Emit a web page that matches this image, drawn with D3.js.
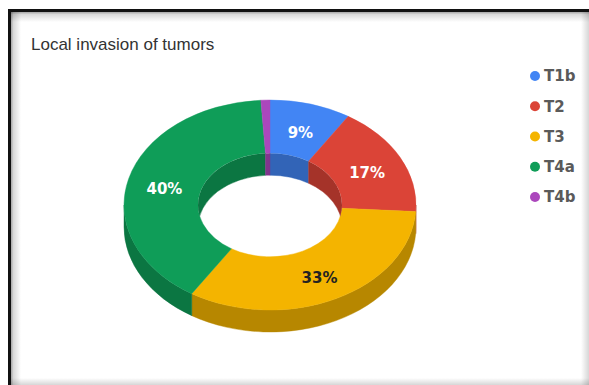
<!DOCTYPE html>
<html>
<head>
<meta charset="utf-8">
<script src="https://cdn.jsdelivr.net/npm/d3@7/dist/d3.min.js"></script>
<style>
  html, body { margin: 0; padding: 0; background: #fff; }
  svg { display: block; }
</style>
</head>
<body>
<svg id="chart" width="589" height="385"></svg>
<script>
// ---- data ----
const title = "Local invasion of tumors";
const categories = ["T1b", "T2", "T3", "T4a", "T4b"];
const values = [9, 17, 33, 40, 1];
const colors = ["#4285F4", "#DB4437", "#F4B400", "#0F9D58", "#AB47BC"];
const labelColors = ["#ffffff", "#ffffff", "#222222", "#ffffff", "#ffffff"];

// ---- layout ----
const W = 589, H = 385;
const cx = 270, cy = 205;
const ro = 146, ri = 72;
const k = 105 / 146;      // vertical squash of the tilted donut
const depth = 22;         // thickness in screen px
const D = depth / k;      // thickness in squashed space

const svg = d3.select("#chart");
const defs = svg.append("defs");

// ---- frame ----
svg.append("rect").attr("width", W).attr("height", H).attr("fill", "#fff");
function grad(id, x1, y1, x2, y2, stops) {
  const g = defs.append("linearGradient").attr("id", id)
    .attr("x1", x1).attr("y1", y1).attr("x2", x2).attr("y2", y2);
  stops.forEach(s => g.append("stop").attr("offset", s[0]).attr("stop-color", "#000").attr("stop-opacity", s[1]));
}
grad("shL", 0, 0, 1, 0, [[0, 0.35], [0.25, 0.15], [1, 0]]);
grad("shT", 0, 0, 0, 1, [[0, 0.35], [0.25, 0.15], [1, 0]]);
grad("shR", 0, 0, 1, 0, [[0, 0], [1, 0.16]]);
grad("shB", 0, 0, 0, 1, [[0, 0], [1, 0.16]]);
svg.append("rect").attr("x", 11).attr("y", 12).attr("width", 10).attr("height", H - 12).attr("fill", "url(#shL)");
svg.append("rect").attr("x", 11).attr("y", 12).attr("width", W - 11).attr("height", 10).attr("fill", "url(#shT)");
svg.append("rect").attr("x", W - 8).attr("y", 12).attr("width", 8).attr("height", H - 12).attr("fill", "url(#shR)");
svg.append("rect").attr("x", 11).attr("y", H - 7).attr("width", W - 11).attr("height", 7).attr("fill", "url(#shB)");
svg.append("rect").attr("x", 8).attr("y", 9).attr("width", 3).attr("height", H - 9).attr("fill", "#111");
svg.append("rect").attr("x", 8).attr("y", 9).attr("width", W - 8).attr("height", 3).attr("fill", "#111");

// ---- title ----
svg.append("text")
  .attr("x", 31).attr("y", 50)
  .attr("font-family", "'Liberation Sans', Arial, sans-serif")
  .attr("font-size", 17)
  .attr("fill", "#333")
  .text(title);

// ---- donut ----
const pie = d3.pie().sort(null).value(d => d);
const arcs = pie(values);
const color = d3.scaleOrdinal().domain(categories).range(colors);
const sideColor = c => d3.color(c).darker(0.8).formatHex();

const g = svg.append("g").attr("transform", `translate(${cx},${cy}) scale(1,${k})`);
const P = (a, r, dy = 0) => [r * Math.sin(a), -r * Math.cos(a) + dy];
const pt = p => `${p[0]},${p[1]}`;

function wallPath(s, e, r) {
  const large = (e - s) > Math.PI ? 1 : 0;
  return `M${pt(P(s, r))}A${r},${r} 0 ${large} 1 ${pt(P(e, r))}` +
         `L${pt(P(e, r, D))}A${r},${r} 0 ${large} 0 ${pt(P(s, r, D))}Z`;
}
function clipRange(a0, a1, lo, hi) {
  const s = Math.max(a0, lo), e = Math.min(a1, hi);
  return s < e ? [s, e] : null;
}

// outer (front) walls
arcs.forEach((d, i) => {
  const r = clipRange(d.startAngle, d.endAngle, Math.PI / 2, 3 * Math.PI / 2);
  if (!r) return;
  const c = sideColor(color(categories[i]));
  g.append("path").attr("d", wallPath(r[0], r[1], ro))
    .attr("fill", c).attr("stroke", c).attr("stroke-width", 0.5);
});

// inner (back) walls, seen through the hole
defs.append("clipPath").attr("id", "hole")
  .append("ellipse").attr("cx", cx).attr("cy", cy).attr("rx", ri).attr("ry", ri * k);
const gin = svg.append("g").attr("clip-path", "url(#hole)")
  .append("g").attr("transform", `translate(${cx},${cy}) scale(1,${k})`);
arcs.forEach((d, i) => {
  const c = sideColor(color(categories[i]));
  [[-Math.PI / 2, Math.PI / 2], [3 * Math.PI / 2, 5 * Math.PI / 2]].forEach(([lo, hi]) => {
    const r = clipRange(d.startAngle, d.endAngle, lo, hi);
    if (!r) return;
    gin.append("path").attr("d", wallPath(r[0], r[1], ri))
      .attr("fill", c).attr("stroke", c).attr("stroke-width", 0.5);
  });
});

// top surface
const arcGen = d3.arc().innerRadius(ri).outerRadius(ro);
g.selectAll("path.top").data(arcs).enter().append("path")
  .attr("class", "top")
  .attr("d", arcGen)
  .attr("fill", (d, i) => color(categories[i]))
  .attr("stroke", (d, i) => color(categories[i]))
  .attr("stroke-width", 0.5);

// slice labels
const total = d3.sum(values);
arcs.forEach((d, i) => {
  const pct = Math.round(d.value / total * 100);
  if (pct < 5) return;
  const c = arcGen.centroid(d);
  svg.append("text")
    .attr("x", cx + c[0]).attr("y", cy + c[1] * k)
    .attr("dy", "0.55em")
    .attr("text-anchor", "middle")
    .attr("font-family", "'DejaVu Sans', sans-serif")
    .attr("font-weight", "bold")
    .attr("font-size", 15)
    .attr("fill", labelColors[i])
    .text(pct + "%");
});

// ---- legend ----
const ly = d3.scalePoint().domain(categories).range([76, 197]);
const leg = svg.append("g");
categories.forEach(cat => {
  leg.append("circle").attr("cx", 535).attr("cy", ly(cat)).attr("r", 5).attr("fill", color(cat));
  leg.append("text").attr("x", 544).attr("y", ly(cat))
    .attr("dy", "0.36em")
    .attr("font-family", "'DejaVu Sans', sans-serif")
    .attr("font-weight", "bold")
    .attr("font-size", 15)
    .attr("fill", "#5a5a5a")
    .text(cat);
});
</script>
</body>
</html>
